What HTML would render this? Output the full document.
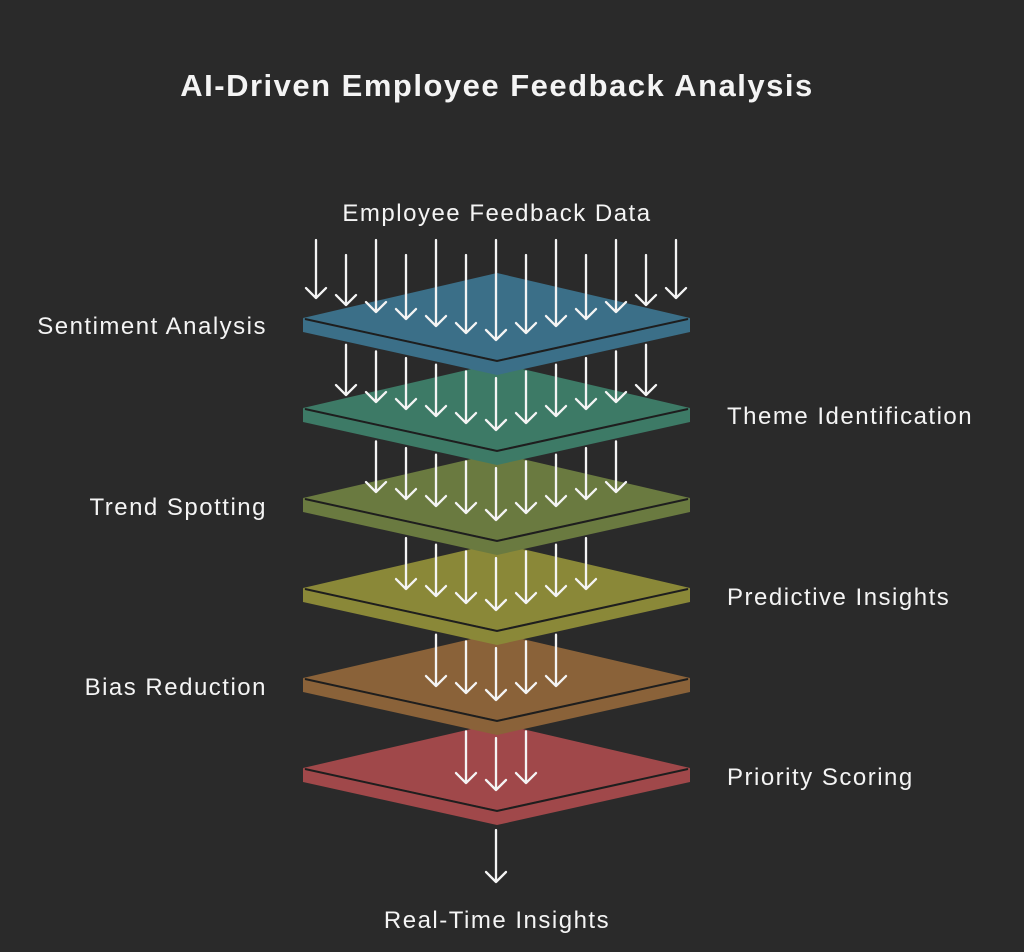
<!DOCTYPE html>
<html><head><meta charset="utf-8">
<style>
html,body{margin:0;padding:0;background:#2a2a2a;}
svg{display:block;}
text{font-family:"Liberation Sans",sans-serif;fill:#f4f4f4;letter-spacing:1.5px;}
</style></head>
<body>
<svg id="s" width="1024" height="952" viewBox="0 0 1024 952" xmlns="http://www.w3.org/2000/svg">
<rect width="1024" height="952" fill="#2a2a2a"/>
<text x="497" y="96" text-anchor="middle" font-size="31" font-weight="bold">AI-Driven Employee Feedback Analysis</text>
<text x="497" y="221" text-anchor="middle" font-size="24">Employee Feedback Data</text>
<text x="267" y="334" text-anchor="end" font-size="24">Sentiment Analysis</text>
<text x="727" y="424" font-size="24">Theme Identification</text>
<text x="267" y="515" text-anchor="end" font-size="24">Trend Spotting</text>
<text x="727" y="605" font-size="24">Predictive Insights</text>
<text x="267" y="695" text-anchor="end" font-size="24">Bias Reduction</text>
<text x="727" y="785" font-size="24">Priority Scoring</text>
<text x="497" y="928" text-anchor="middle" font-size="24">Real-Time Insights</text>
<g id="layers"></g>
<g id="arrows" stroke="#f4f4f4" stroke-width="2.3" fill="none" stroke-linecap="round" stroke-linejoin="round"></g>
</svg>
<script>
var NS="http://www.w3.org/2000/svg";
var cols=["#3b6f88","#3d7a66","#6a7a40","#8a8838","#8a6239","#a0484a"];
var L=document.getElementById("layers"),A=document.getElementById("arrows");
function el(t,a,p){var e=document.createElementNS(NS,t);for(var k in a)e.setAttribute(k,a[k]);p.appendChild(e);return e;}
for(var k=5;k>=0;k--){
 var cy=318+90*k,c=cols[k];
 el("polygon",{points:"303,"+cy+" 497,"+(cy+42)+" 690,"+cy+" 690,"+(cy+14)+" 497,"+(cy+57)+" 303,"+(cy+14),fill:c},L);
 el("polygon",{points:"303,"+cy+" 497,"+(cy-45)+" 690,"+cy+" 497,"+(cy+42),fill:c},L);
 el("polyline",{points:"305,"+(cy+1)+" 497,"+(cy+43)+" 688,"+(cy+1),stroke:"#1e1e1e","stroke-width":"2",fill:"none"},L);
}
function arrow(x,y1,y2){
 el("path",{d:"M"+x+" "+y1+"V"+y2+"M"+(x-10)+" "+(y2-10)+"L"+x+" "+y2+"L"+(x+10)+" "+(y2-10)},A);
}
for(var k=0;k<6;k++){
 var n=6-k;
 for(var i=-n;i<=n;i++){
  var x=496+30*i,dx=Math.abs(x-496);
  var tip=340+90*k-dx*0.233;
  var st;
  if(k==0){st=(Math.abs(i)%2==0)?240:255;}
  else{var cy=318+90*(k-1);st=cy+14+(1-dx/194)*43+3;}
  arrow(x,st,tip);
 }
}
arrow(496,830,882);
</script>
</body></html>
